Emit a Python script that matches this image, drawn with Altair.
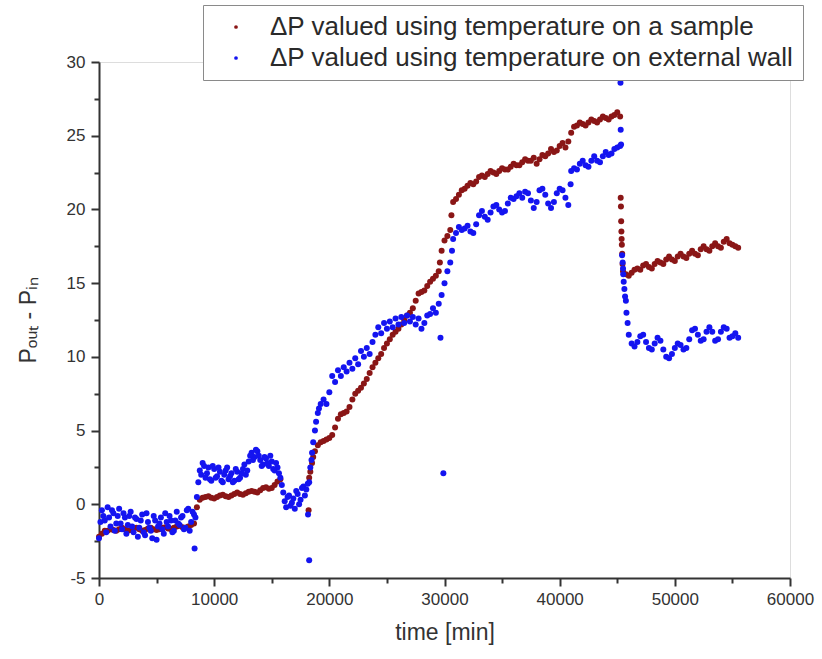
import altair as alt
import pandas as pd

# ---------------- data ----------------
LABEL_SAMPLE = "ΔP valued using temperature on a sample"
LABEL_WALL = "ΔP valued using temperature on external wall"

time_min = [
    0, 250, 500, 750, 1000, 1250, 1500, 1750,
    2000, 2250, 2500, 2750, 3000, 3250, 3500, 3750,
    4000, 4250, 4500, 4750, 5000, 5250, 5500, 5750,
    6000, 6250, 6500, 6750, 7000, 7250, 7500, 7750,
    8000, 8250, 8500, 8750, 9000, 9250, 9500, 9750,
    10000, 10250, 10500, 10750, 11000, 11250, 11500, 11750,
    12000, 12250, 12500, 12750, 13000, 13250, 13500, 13750,
    14000, 14250, 14500, 14750, 15000, 15250, 15500, 15750,
    16000, 16250, 16500, 16750, 17000, 17250, 17500, 17750,
    18000, 18250, 18500, 18750, 19000, 19250, 19500, 19750,
    20000, 20250, 20500, 20750, 21000, 21250, 21500, 21750,
    22000, 22250, 22500, 22750, 23000, 23250, 23500, 23750,
    24000, 24250, 24500, 24750, 25000, 25250, 25500, 25750,
    26000, 26250, 26500, 26750, 27000, 27250, 27500, 27750,
    28000, 28250, 28500, 28750, 29000, 29250, 29500, 29750,
    30000, 30250, 30500, 30750, 31000, 31250, 31500, 31750,
    32000, 32250, 32500, 32750, 33000, 33250, 33500, 33750,
    34000, 34250, 34500, 34750, 35000, 35250, 35500, 35750,
    36000, 36250, 36500, 36750, 37000, 37250, 37500, 37750,
    38000, 38250, 38500, 38750, 39000, 39250, 39500, 39750,
    40000, 40250, 40500, 40750, 41000, 41250, 41500, 41750,
    42000, 42250, 42500, 42750, 43000, 43250, 43500, 43750,
    44000, 44250, 44500, 44750, 45000, 45250, 45500, 45750,
    46000, 46250, 46500, 46750, 47000, 47250, 47500, 47750,
    48000, 48250, 48500, 48750, 49000, 49250, 49500, 49750,
    50000, 50250, 50500, 50750, 51000, 51250, 51500, 51750,
    52000, 52250, 52500, 52750, 53000, 53250, 53500, 53750,
    54000, 54250, 54500, 54750, 55000, 55250, 55500,
]

dp_sample = [
    -2.2, -2.0, -1.8, -1.8, -1.7, -1.75, -1.8, -1.7,
    -1.6, -1.7, -1.8, -1.75, -1.65, -1.6, -1.7, -1.8,
    -1.75, -1.65, -1.6, -1.7, -1.75, -1.7, -1.6, -1.55,
    -1.65, -1.7, -1.6, -1.5, -1.45, -1.55, -1.6, -1.5,
    -1.4, -1.3,
    -0.2, 0.3,
    0.45, 0.5, 0.55, 0.45, 0.4, 0.5, 0.6, 0.65,
    0.55, 0.5, 0.6, 0.7, 0.8, 0.7, 0.65, 0.75,
    0.85, 0.9, 0.85, 0.8, 0.95, 1.1, 1.15, 1.05,
    1.1, 1.3, 1.55, 1.7,
    None, None, None, None, None, None, None, None, None,
    1.8, 2.8, 3.6, 4.0, 4.2, 4.3, 4.4, 4.5,
    4.7, 5.2, 5.8, 6.1, 6.2, 6.3, 6.6, 7.1,
    7.5, 7.7, 7.9, 8.2, 8.5, 8.9, 9.3, 9.6,
    9.9, 10.2, 10.6, 10.9, 11.2, 11.5, 11.7, 11.9,
    12.2, 12.5, 12.8, 13.0, 13.3, 13.8, 14.3, 14.4,
    14.5, 14.8, 15.1, 15.3, 15.5, 15.8, 17.2, 17.9,
    18.2, 18.6,
    20.5, 20.7, 21.0, 21.3, 21.4, 21.6, 21.8, 21.7,
    21.9, 22.2, 22.3, 22.2, 22.4, 22.6, 22.5, 22.4,
    22.6, 22.8, 22.7, 22.7, 22.9, 23.1, 23.0, 23.0,
    23.2, 23.4, 23.3, 23.3, 23.5, 23.1, 23.4, 23.7,
    23.6, 23.8, 24.1, 23.9, 24.0, 24.3, 24.5, 24.2,
    24.6,
    25.2, 25.6, 25.7, 25.9, 25.8, 25.7, 25.9, 26.1,
    26.0, 25.9, 26.1, 26.3, 26.2, 26.1, 26.3, 26.4,
    26.6, 26.3,
    15.8, 15.6, 15.5, 15.7, 15.9, 16.0, 15.9, 16.2,
    16.3, 16.1, 16.0, 16.3, 16.5, 16.4, 16.3, 16.6,
    16.8, 16.6, 16.5, 16.8, 17.0, 16.8, 16.7, 17.0,
    17.2, 17.0, 16.9, 17.3, 17.5, 17.3, 17.2, 17.5,
    17.7, 17.5, 17.4, 17.8, 18.0, 17.7, 17.6, 17.5,
    17.4,
]

dp_wall = [
    -2.3, -0.4, -1.1, -0.2, -1.5, -0.6, -1.3, -0.3,
    -1.7, -0.9, -1.4, -0.5, -1.9, -1.0, -1.6, -0.7,
    -2.1, -1.2, -1.8, -0.8, -2.4, -1.3, -1.7, -0.6,
    -1.5, -1.1, -1.8, -0.5, -1.4, -0.8, -1.6, -0.3,
    -1.2, -0.7,
    0.5, 2.3, 2.8, 1.8, 2.5, 1.6, 2.4, 1.9,
    2.2, 1.5, 2.3, 1.7, 2.1, 1.6, 2.2, 1.8,
    2.4, 2.0, 2.9, 3.5, 3.2, 3.6, 3.0, 2.7,
    3.1, 2.6, 2.9, 2.3, 2.5, 1.8, 0.8, -0.2,
    0.6, 0.1, -0.3, 0.7, 0.3, 1.2, 1.0,
    1.5, 3.5, 5.0, 6.2, 6.8, 7.1, 6.8, 7.6,
    8.7, 8.3, 9.1, 8.7, 9.3, 9.0, 9.6, 9.2,
    9.9, 9.5, 10.4, 10.0, 10.6, 10.2, 11.0, 11.5,
    12.0, 11.6, 12.3, 11.9, 12.4, 12.0, 12.6, 12.2,
    12.7, 12.3, 12.8, 12.4, 12.7, 12.2, 12.6, 11.9,
    12.3, 12.8, 12.9, 13.3, 13.0, 13.6, 14.2, 15.0,
    15.8, 16.4,
    18.0, 18.4, 18.8, 18.6, 18.7, 18.9, 18.5, 18.4,
    19.0, 19.6, 19.9, 19.5, 19.3, 19.8, 20.2, 20.3,
    20.0, 19.8, 19.9, 20.4, 20.8, 20.7, 20.9, 21.1,
    20.8, 21.2, 21.1, 20.6, 20.1, 20.5, 21.3, 21.4,
    21.0, 20.4, 20.1, 20.5, 21.1, 21.4, 21.3, 20.8,
    20.3,
    22.6, 22.8, 22.7, 23.1, 23.3, 23.0, 22.9, 23.3,
    23.6, 23.3, 23.2, 23.6, 23.9, 23.7, 23.8, 24.1,
    24.2, 24.3,
    16.0, 13.8, 11.5, 10.9, 10.7, 11.0, 11.4, 11.5,
    11.0, 10.6, 10.5, 10.9, 11.3, 11.1, 10.5, 10.0,
    9.9, 10.2, 10.6, 10.9, 10.8, 10.5, 10.6, 11.2,
    11.8, 11.9, 11.5, 11.1, 11.2, 11.7, 12.0, 11.7,
    11.1, 11.2, 11.7, 12.0, 11.9, 11.3, 11.4, 11.6,
    11.3,
]

# extra readings in the noisy first part of the external-wall series
wall_band_t = [
    125, 375, 625, 875, 1125, 1375, 1625, 1875,
    2125, 2375, 2625, 2875, 3125, 3375, 3625, 3875,
    4125, 4375, 4625, 4875, 5125, 5375, 5625, 5875,
    6125, 6375, 6625, 6875, 7125, 7375, 7625, 7875,
    8125, 8375, 8625, 8875, 9125, 9375, 9625, 9875,
    10125, 10375, 10625, 10875, 11125, 11375, 11625, 11875,
    12125, 12375, 12625, 12875, 13125, 13375, 13625, 13875,
    14125, 14375, 14625, 14875, 15125, 15375, 15625, 15875,
    16125, 16375, 16625, 16875, 17125, 17375, 17625, 17875,
    18125,
]
wall_band_y = [
    -1.2, -0.8, -1.9, -0.9, -0.4, -1.8, -0.8, -1.3,
    -0.6, -2.0, -0.8, -1.5, -0.9, -2.2, -1.1, -1.9,
    -0.6, -1.6, -2.3, -1.1, -1.5, -0.9, -2.0, -1.2,
    -0.8, -1.9, -1.1, -1.3, -0.9, -1.7, -0.4, -1.8,
    -0.5, -0.9, 1.5, 2.0, 2.6, 2.1, 1.7, 2.6,
    1.8, 2.5, 1.6, 2.0, 2.5, 1.9, 1.5, 2.4,
    1.7, 2.1, 2.7, 2.3, 3.3, 3.0, 3.7, 3.3,
    2.6, 3.2, 2.8, 3.3, 2.4, 2.8, 2.1, 1.3,
    0.2, 0.5, -0.1, 0.4, 0.9, 0.0, 1.1, 0.6,
    1.4,
]

# isolated points / fast transitions
sample_extra_t = [18200, 18350, 18600, 29600, 30600,
                  45300, 45320, 45340, 45360, 45380, 45400, 45430, 45460]
sample_extra_y = [-0.4, 2.2, 3.2, 16.4, 19.6,
                  20.8, 20.2, 19.2, 18.5, 18.0, 17.6, 17.0, 16.3]

wall_extra_t = [8300, 18150, 18250, 18350, 18450, 18600, 18850, 19100,
                29650, 29900, 30650, 40950, 45280, 45300, 45330,
                45420, 45470, 45520, 45560, 45620, 45680, 45800, 45900]
wall_extra_y = [-3.0, -0.7, -3.8, 2.5, 3.0, 4.2, 5.6, 6.5,
                11.3, 2.1, 17.2, 21.7, 28.6, 25.4, 24.4,
                16.9, 16.4, 15.6, 15.1, 14.6, 14.1, 13.0, 12.3]

x_major = [0, 10000, 20000, 30000, 40000, 50000, 60000]
x_minor = [5000, 15000, 25000, 35000, 45000, 55000]
y_major = [-5, 0, 5, 10, 15, 20, 25, 30]
y_minor = [-2.5, 2.5, 7.5, 12.5, 17.5, 22.5, 27.5]

# ---------------- table ----------------
rows = []
for t, v in zip(time_min, dp_sample):
    if v is not None:
        rows.append({"t": t, "dp": v, "series": LABEL_SAMPLE})
for t, v in zip(sample_extra_t, sample_extra_y):
    rows.append({"t": t, "dp": v, "series": LABEL_SAMPLE})
for t, v in zip(time_min, dp_wall):
    if v is not None:
        rows.append({"t": t, "dp": v, "series": LABEL_WALL})
for t, v in zip(wall_band_t, wall_band_y):
    rows.append({"t": t, "dp": v, "series": LABEL_WALL})
for t, v in zip(wall_extra_t, wall_extra_y):
    rows.append({"t": t, "dp": v, "series": LABEL_WALL})
df = pd.DataFrame(rows)

RED = "#8a1616"
BLUE = "#1414f0"
AX = "#333333"
FONT = "Liberation Sans"

xscale = alt.Scale(domain=[0, 60000], nice=False, zero=False)
yscale = alt.Scale(domain=[-5, 30], nice=False, zero=False)

points = alt.Chart(df).mark_circle(size=36, opacity=1).encode(
    x=alt.X("t:Q", scale=xscale,
            axis=alt.Axis(orient="bottom", values=x_major, format="d", title="time [min]",
                          grid=False, tickSize=8, tickWidth=2, tickColor=AX,
                          domainColor=AX, domainWidth=2, labelFont=FONT, labelFontSize=17,
                          labelColor=AX, labelPadding=5, labelFlush=False,
                          titleFont=FONT, titleFontSize=23, titleFontWeight="normal",
                          titleColor=AX, titlePadding=14)),
    y=alt.Y("dp:Q", scale=yscale,
            axis=alt.Axis(orient="left", values=y_major, labelExpr="'' + datum.value",
                          title="Pₒᵤₜ - Pᵢₙ", grid=False, tickSize=8, tickWidth=2,
                          tickColor=AX, domainColor=AX, domainWidth=2, labelFont=FONT,
                          labelFontSize=17, labelColor=AX, labelPadding=6,
                          titleFont=FONT, titleFontSize=23, titleFontWeight="normal",
                          titleColor=AX, titlePadding=26)),
    color=alt.Color("series:N",
                    scale=alt.Scale(domain=[LABEL_SAMPLE, LABEL_WALL], range=[RED, BLUE]),
                    legend=alt.Legend(title=None, orient="none", legendX=104, legendY=-57,
                                      labelFont=FONT, labelFontSize=26, labelColor="#2a2a2a",
                                      labelLimit=1000, symbolType="circle", symbolSize=14,
                                      symbolStrokeWidth=0, symbolOffset=11, labelOffset=21,
                                      rowPadding=5, padding=9, strokeColor="#8a8a8a",
                                      fillColor="white")),
)

minor = alt.Chart(df).mark_point(opacity=0).encode(
    x=alt.X("t:Q", scale=xscale,
            axis=alt.Axis(orient="bottom", values=x_minor, labels=False, domain=False,
                          grid=False, tickSize=5, tickWidth=2, tickColor=AX, title="")),
    y=alt.Y("dp:Q", scale=yscale,
            axis=alt.Axis(orient="left", values=y_minor, labels=False, domain=False,
                          grid=False, tickSize=5, tickWidth=2, tickColor=AX, title="")),
)

chart = alt.layer(points, minor).resolve_axis(
    x="independent", y="independent"
).properties(
    width=691, height=516,
    padding={"left": 99, "top": 62, "right": 32, "bottom": 81},
    autosize=alt.AutoSizeParams(type="none"),
).configure_view(strokeWidth=0).configure(background="white")

chart.save("out.html", embed_options={"renderer": "svg", "actions": False})
